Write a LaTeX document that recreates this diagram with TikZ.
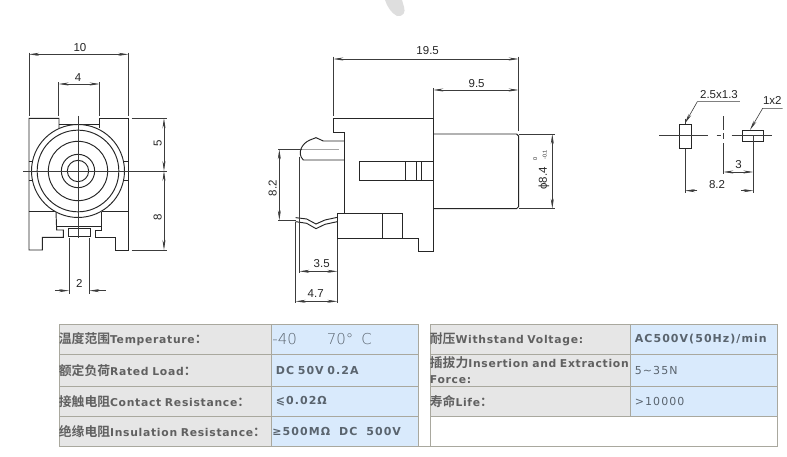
\documentclass[tikz,border=0pt]{standalone}
\usepackage{fontspec}
\setmainfont{Liberation Sans}
\newfontfamily\cellfont[LetterSpace=6.5]{DejaVu Sans Bold}
\newfontfamily\valfont[LetterSpace=9.5]{DejaVu Sans Bold}
\newfontfamily\cellreg[LetterSpace=9.5]{DejaVu Sans}
\newfontfamily\cjkfont{Noto Sans CJK SC Bold}
\newfontfamily\thinfont{DejaVu Sans ExtraLight}
\usetikzlibrary{arrows.meta}
\definecolor{ink}{HTML}{262626}
\definecolor{dimc}{HTML}{3C3C3C}
\definecolor{cellgray}{HTML}{E6E6E6}
\definecolor{cellblue}{HTML}{D9EAFC}
\definecolor{rulec}{HTML}{A9A89E}
\definecolor{textc}{HTML}{606060}
\definecolor{bluetext}{HTML}{5A646E}
\tikzset{
  part/.style={draw=ink,line width=0.95pt,line join=miter},
  thinl/.style={draw=dimc,line width=0.6pt},
  dimline/.style={draw=dimc,line width=0.6pt,{Stealth[length=10pt,width=3pt]}-{Stealth[length=10pt,width=3pt]}},
  tipend/.style={draw=dimc,line width=0.6pt,-{Stealth[length=10pt,width=3pt]}},
  dimtext/.style={font=\fontsize{11.5}{12}\selectfont,text=ink,inner sep=0pt},
  tinytext/.style={font=\fontsize{5.5}{6}\selectfont,text=ink,inner sep=0pt,rotate=90},
  cellbase/.style={draw=rulec,line width=0.8pt,anchor=north west,inner xsep=0pt,inner ysep=0pt,align=left,text=textc,font=\fontsize{10.8}{16}\selectfont\cellfont},
  cellg/.style={cellbase,fill=cellgray},
  cellb/.style={cellbase,fill=cellblue,text=bluetext,font=\fontsize{11}{16}\selectfont\valfont},
}
\newcommand{\zh}[1]{{\cjkfont\fontsize{12.8}{16}\selectfont #1}}
\begin{document}
\begin{tikzpicture}[x=1pt,y=-1pt]
\useasboundingbox[fill=white] (0,0) rectangle (787,456);

% watermark fragment
\fill[gray!26] (385,0) .. controls (387,6) and (391,13) .. (397,16) .. controls (403,17) and (406,12) .. (404,7) -- (402,0) -- cycle;

% ---------- front view
\begin{scope}[shift={(10,30)},x=0.3333pt,y=-0.3333pt]
\draw[part] (147,295) -- (147,265) -- (57,265) -- (57,660) -- (97,660) -- (97,622) -- (160,622) -- (160,600) -- (140,600) -- (138,545);
\draw[part] (268,295) -- (268,265) -- (355,265) -- (355,660) -- (315,660) -- (315,622) -- (255,622) -- (255,600) -- (275,600) -- (275,545);
\draw[part] (147,283) -- (268,283);
\draw[part] (57,545) -- (137,545) (275,545) -- (355,545);
\draw[part] (140,590) -- (275,590);
\draw[part] (175,595) rectangle (240,620);
\draw[part] (57,395) -- (69,395) (57,450) -- (69,450) (343,395) -- (355,395) (343,450) -- (355,450);
\fill[white] (204,423) circle (139.5);
\draw[part] (204,423) circle (139.5);
\draw[part] (204,423) circle (122.5);
\draw[part] (204,423) circle (89);
\draw[part] (204,423) circle (50);
\draw[part] (204,423) circle (32);
% centre lines
\draw[thinl] (40,423) -- (470,423);
\draw[thinl] (204,258) -- (204,625);
% dimensions
\draw[thinl] (57,68) -- (57,258) (355,68) -- (355,258);
\draw[dimline] (57,73) -- (355,73);
\draw[thinl] (146,157) -- (146,258) (269,157) -- (269,258);
\draw[dimline] (146,162) -- (269,162);
\draw[thinl] (365,265) -- (470,265) (365,660) -- (470,660);
\draw[dimline] (462,265) -- (462,423);
\draw[dimline] (462,423) -- (462,660);
\draw[thinl] (177,625) -- (177,792) (238,625) -- (238,792);
\draw[tipend] (135,782) -- (177,782);
\draw[tipend] (288,782) -- (238,782);
\node[dimtext] (f10) at (210,52) {10};
\node[dimtext] (f4) at (204,143) {4};
\node[dimtext,rotate=90] (f5) at (443,340) {5};
\node[dimtext,rotate=90] (f8) at (443,563) {8};
\node[dimtext] (f2) at (208,762) {2};
\end{scope}

% ---------- side view
\begin{scope}[shift={(260,40)},x=0.3333pt,y=-0.3333pt]
\draw[part] (254,520) -- (254,278) -- (220,278) -- (220,235) -- (520,235) -- (520,634) -- (474,634) -- (474,596) -- (232,596) -- (232,520) -- (428,520) -- (428,596);
\draw[part] (366,520) -- (366,596);
\draw[part] (520,282) -- (770,282) -- (776,288) -- (776,500) -- (770,506) -- (520,506);
\draw[part] (520,365) -- (297,365) -- (297,422) -- (520,422);
\draw[part] (437,365) -- (437,422) (468,365) -- (468,422) (484,365) -- (484,422);
\draw[part] (254,303) -- (190,303) -- (168,293) -- (150,300) .. controls (125,310) and (110,340) .. (130,360) -- (254,360);
\draw[draw=gray!70,line width=0.5pt] (125,328) -- (238,328);
\draw[part] (107,533) -- (140,537) -- (168,552) -- (195,540) -- (232,532);
\draw[part] (107,545) -- (140,550) -- (168,566) -- (195,553) -- (232,545);
% dimensions
\draw[thinl] (220,50) -- (220,228) (776,50) -- (776,272);
\draw[dimline] (220,57) -- (776,57);
\draw[thinl] (520,145) -- (520,235);
\draw[dimline] (520,150) -- (776,150);
\draw[thinl] (55,328) -- (125,328) (55,541) -- (107,541);
\draw[dimline] (58,328) -- (58,541);
\draw[thinl] (118,350) -- (118,700) (232,596) -- (232,790) (107,545) -- (107,790);
\draw[dimline] (118,694) -- (232,694);
\draw[dimline] (107,784) -- (232,784);
\draw[thinl] (776,282) -- (885,282) (776,506) -- (885,506);
\draw[dimline] (877,282) -- (877,506);
\node[dimtext] (s195) at (503,33) {19.5};
\node[dimtext] (s95) at (650,130) {9.5};
\node[dimtext,rotate=90] (s82) at (38,445) {8.2};
\node[dimtext] (s35) at (185,672) {3.5};
\node[dimtext] (s47) at (167,762) {4.7};
\node[dimtext,rotate=90] (s84) at (852,415) {ϕ8.4};
\node[tinytext] (s0) at (826,358) {0};
\node[tinytext] (s01) at (854,345) {-0.1};
\end{scope}

% ---------- footprint
\begin{scope}[shift={(640,80)},x=0.3333pt,y=-0.3333pt]
\draw[part] (118,132) rectangle (153,206);
\draw[part] (306,150) rectangle (370,185);
\draw[thinl] (58,166) -- (205,166) (275,166) -- (395,166);
\draw[thinl] (135,116) -- (135,132) (135,206) -- (135,338);
\draw[thinl] (340,166) -- (340,338);
\draw[thinl] (250,108) -- (250,150) (250,160) -- (250,178) (250,190) -- (250,282) (230,166) -- (244,166);
\draw[tipend] (300,65) -- (172,65) -- (135,130);
\draw[tipend] (428,85) -- (368,85) -- (330,150);
\draw[dimline] (250,276) -- (340,276);
\draw[tipend] (172,332) -- (135,332);
\draw[tipend] (303,332) -- (340,332);
\node[dimtext] (p25) at (237,44) {2.5x1.3};
\node[dimtext] (p12) at (397,62) {1x2};
\node[dimtext] (p3) at (296,254) {3};
\node[dimtext] (p82) at (231,313) {8.2};
\end{scope}

% ---------- table
\node[cellg,minimum width=212pt,minimum height=30pt,text width=212pt] (a1) at (58.5,324) {\zh{温度范围}Temperature\zh{：}};
\node[cellb,minimum width=147pt,minimum height=30pt,text width=147pt] (b1) at (270.5,324) {{\thinfont\fontsize{15}{15}\selectfont\color{bluetext}\hspace{1.5pt}-40\hspace{30pt}70°\hspace{8pt}C}};
\node[cellg,minimum width=212pt,minimum height=32pt,text width=212pt] (a2) at (58.5,354) {\zh{额定负荷}Rated Load\zh{：}};
\node[cellb,minimum width=147pt,minimum height=32pt,text width=147pt] (b2) at (270.5,354) {\hspace{5pt}DC 50V 0.2A};
\node[cellg,minimum width=212pt,minimum height=30pt,text width=212pt] (a3) at (58.5,386) {\zh{接触电阻}Contact Resistance\zh{：}};
\node[cellb,minimum width=147pt,minimum height=30pt,text width=147pt] (b3) at (270.5,386) {\hspace{5pt}⩽0.02Ω};
\node[cellg,minimum width=212pt,minimum height=30pt,text width=212pt] (a4) at (58.5,416) {\zh{绝缘电阻}Insulation Resistance\zh{：}};
\node[cellb,minimum width=147pt,minimum height=30pt,text width=147pt] (b4) at (270.5,416) {\hspace{1.5pt}≥500MΩ\hspace{9pt}DC\hspace{9pt}500V};

\node[cellg,minimum width=200pt,minimum height=30pt,text width=200pt] (c1) at (429.5,324) {\zh{耐压}Withstand Voltage:};
\node[cellb,minimum width=147pt,minimum height=30pt,text width=147pt] (d1) at (629.5,324) {\hspace{5pt}AC500V(50Hz)/min};
\node[cellg,minimum width=200pt,minimum height=32pt,text width=200pt] (c2) at (429.5,354) {\mbox{\zh{插拔力}Insertion and Extraction}\\Force:};
\node[cellb,minimum width=147pt,minimum height=32pt,text width=147pt] (d2) at (629.5,354) {\hspace{5pt}{\cellreg 5\textasciitilde 35N}};
\node[cellg,minimum width=200pt,minimum height=30pt,text width=200pt] (c3) at (429.5,386) {\zh{寿命}Life\zh{：}};
\node[cellb,minimum width=147pt,minimum height=30pt,text width=147pt] (d3) at (629.5,386) {\hspace{5pt}{\cellreg >10000}};
\node[cellbase,fill=white,minimum width=347pt,minimum height=30pt,text width=347pt] (e) at (429.5,416) {};
\draw[draw=rulec,line width=0.8pt] (a4.south east) -- (e.south west);
\end{tikzpicture}
\end{document}
